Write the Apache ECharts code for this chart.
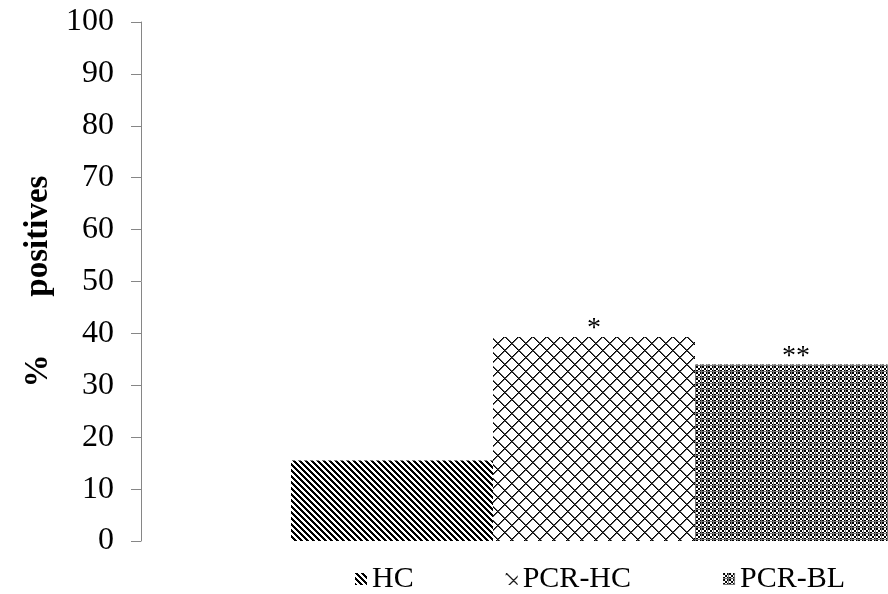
<!DOCTYPE html>
<html>
<head>
<meta charset="utf-8">
<script src="https://cdn.jsdelivr.net/npm/echarts@6/dist/echarts.min.js"></script>
<style>
  html, body { margin: 0; padding: 0; background: #fff; }
  #chart { width: 888px; height: 594px; }
</style>
</head>
<body>
<div id="chart"></div>
<script>
var categories = [''];
var seriesNames = ['HC', 'PCR-HC', 'PCR-BL'];
var values = [15.5, 39.3, 34];
var marks = ['', '*', '**'];
var yMin = 0, yMax = 100, yStep = 10;

var FONT = '"Liberation Serif", "Times New Roman", serif';

// pixel patterns, one per group
function makeTile(size, fn) {
  var c = document.createElement('canvas');
  c.width = size;
  c.height = size;
  var ctx = c.getContext('2d');
  ctx.fillStyle = '#fff';
  ctx.fillRect(0, 0, size, size);
  for (var y = 0; y < size; y++) {
    for (var x = 0; x < size; x++) {
      var col = fn(x, y);
      if (col) {
        ctx.fillStyle = col;
        ctx.fillRect(x, y, 1, 1);
      }
    }
  }
  return c;
}

// downward diagonal stripes
var stripes = makeTile(6, function (x, y) {
  return (((x - y) % 6) + 6) % 6 < 3 ? '#000' : null;
});
// outlined diamonds
var diamonds = makeTile(14, function (x, y) {
  var a = (x + y) % 14, b = (((x - y) % 14) + 14) % 14;
  if (a === 0 || b === 0) return '#000';
  if (a === 1 || b === 1) return '#555';
  return null;
});
// small checks with grey grid
var checks = makeTile(6, function (x, y) {
  if (x === 5 || y === 5) return '#777';
  return ((Math.floor(x / 2) + Math.floor(y / 2)) % 2 === 0) ? '#000' : null;
});
var patterns = [stripes, diamonds, checks];

var chart = echarts.init(document.getElementById('chart'));

var series = [];
for (var i = 0; i < seriesNames.length; i++) {
  series.push({
    name: seriesNames[i],
    type: 'bar',
    barWidth: 202,
    barGap: '0%',
    data: [values[i]],
    itemStyle: {
      color: { image: patterns[i], repeat: 'repeat' }
    },
    label: {
      show: marks[i] !== '',
      position: 'top',
      distance: -6,
      formatter: marks[i],
      color: '#000',
      fontFamily: FONT,
      fontSize: 28
    }
  });
}

var option = {
  backgroundColor: '#fff',
  animation: false,
  grid: {
    left: 141,
    top: 22,
    height: 519,
    width: 906,
    outerBoundsMode: 'none'
  },
  legend: {
    data: seriesNames,
    left: 350,
    top: 559,
    icon: 'rect',
    itemWidth: 12,
    itemHeight: 12,
    itemGap: 92,
    textStyle: {
      color: '#000',
      fontFamily: FONT,
      fontSize: 30
    }
  },
  xAxis: {
    type: 'category',
    data: categories,
    axisLine: { show: false },
    axisTick: { show: false },
    axisLabel: { show: false }
  },
  yAxis: {
    type: 'value',
    min: yMin,
    max: yMax,
    interval: yStep,
    name: '%       positives',
    nameLocation: 'middle',
    nameGap: 86,
    nameTextStyle: {
      color: '#000',
      fontFamily: FONT,
      fontSize: 33,
      fontWeight: 'bold'
    },
    axisLine: { show: true, lineStyle: { color: '#868686', width: 1 } },
    axisTick: { show: true, length: 10, lineStyle: { color: '#868686' } },
    splitLine: { show: false },
    axisLabel: {
      color: '#000',
      fontFamily: FONT,
      fontSize: 32,
      margin: 27
    }
  },
  series: series
};

chart.setOption(option);
</script>
</body>
</html>
